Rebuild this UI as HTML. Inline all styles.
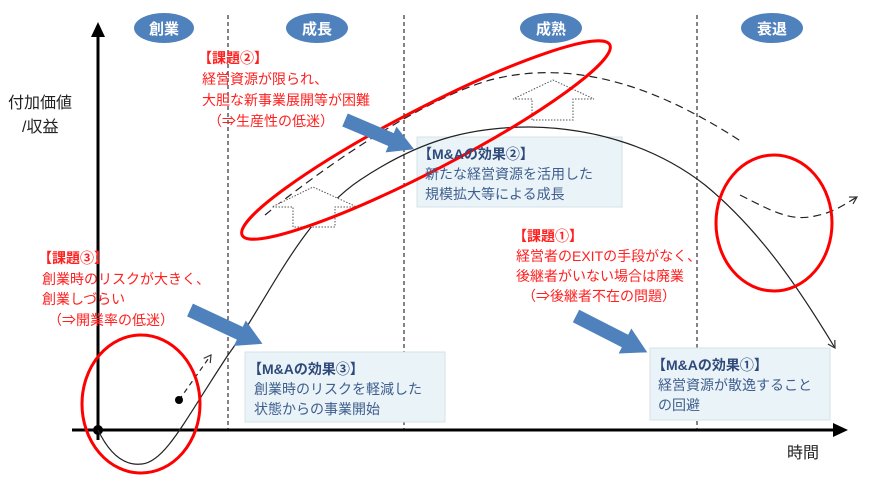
<!DOCTYPE html>
<html><head><meta charset="utf-8"><style>
body{margin:0;background:#fff;}
svg{display:block;font-family:"Liberation Sans","Noto Sans CJK JP",sans-serif;}
.r{fill:#ff2020;font-size:14px;}
.rb{fill:#ff2020;font-size:14px;font-weight:bold;}
.bt{fill:#2e4a7a;font-size:14px;font-weight:bold;}
.bx{fill:#3f5f8f;font-size:14px;}
.ph{fill:#fff;font-size:15px;font-weight:bold;}
</style></head><body>
<svg width="869" height="483" viewBox="0 0 869 483">
<defs>
<marker id="ah" markerWidth="10" markerHeight="10" refX="8" refY="5" orient="auto" markerUnits="userSpaceOnUse"><path d="M1,1 L8,5 L1,9" fill="none" stroke="#333" stroke-width="1.2"/></marker>
</defs>
<g stroke="#333" stroke-width="1.2" stroke-dasharray="4,3">
<line x1="228" y1="15" x2="228" y2="430"/><line x1="404" y1="15" x2="404" y2="430"/><line x1="697" y1="15" x2="697" y2="430"/>
</g>
<rect x="417" y="137" width="205" height="70" fill="#eaf3f7" stroke="#d5e3ea"/>
<rect x="245" y="352" width="200" height="70" fill="#eaf3f7" stroke="#d5e3ea"/>
<rect x="650" y="348" width="180" height="72" fill="#eaf3f7" stroke="#d5e3ea"/>
<line x1="98" y1="440" x2="98" y2="35" stroke="#000" stroke-width="3"/>
<polygon points="91,37 98,22 105,37" fill="#000"/>
<line x1="72" y1="430" x2="835" y2="430" stroke="#000" stroke-width="3"/>
<polygon points="833,423 848,430 833,437" fill="#000"/>
<circle cx="98" cy="430" r="5" fill="#000"/>
<ellipse cx="164" cy="28" rx="30" ry="15" fill="#4f81bd"/><text x="164" y="34" text-anchor="middle" class="ph">創業</text>
<ellipse cx="317" cy="28" rx="31" ry="15" fill="#4f81bd"/><text x="317" y="34" text-anchor="middle" class="ph">成長</text>
<ellipse cx="551" cy="28" rx="31" ry="15" fill="#4f81bd"/><text x="551" y="34" text-anchor="middle" class="ph">成熟</text>
<ellipse cx="772" cy="28" rx="31" ry="15" fill="#4f81bd"/><text x="772" y="34" text-anchor="middle" class="ph">衰退</text>
<text x="8" y="108" font-size="16" fill="#222">付加価値</text>
<text x="22" y="132" font-size="16" fill="#222">/収益</text>
<text x="787" y="458" font-size="16" fill="#222">時間</text>
<path d="M98,430 C110,455 125,466 142,464 C165,462 185,420 228,355 C265,305 300,220 360,180 C420,140 470,127 530,127 C600,128 660,150 705,185 C760,230 800,290 835,348" fill="none" stroke="#222" stroke-width="1.2" marker-end="url(#ah)"/>
<path d="M265,215 C320,170 420,100 490,80 C560,62 640,75 742,142" fill="none" stroke="#222" stroke-width="1.2" stroke-dasharray="8,5"/>
<path d="M740,195 C770,210 790,222 815,216 C835,212 845,204 857,197" fill="none" stroke="#222" stroke-width="1.2" stroke-dasharray="8,5" marker-end="url(#ah)"/>
<line x1="179" y1="400" x2="211" y2="355" stroke="#222" stroke-width="1.2" stroke-dasharray="5,4" marker-end="url(#ah)"/>
<circle cx="179" cy="400" r="4" fill="#000"/>
<path d="M293,227 L293,207 L272,207 L313,187 L357,207 L335,207 L335,227 Z" fill="#fff" stroke="#555" stroke-width="1" stroke-dasharray="1.5,1.5"/>
<path d="M532,120 L532,99 L513,99 L553,80 L594,99 L573,99 L573,120 Z" fill="#fff" stroke="#555" stroke-width="1" stroke-dasharray="1.5,1.5"/>
<ellipse cx="426" cy="140" rx="207" ry="31" transform="rotate(-27.4 426 140)" fill="none" stroke="#ff0000" stroke-width="3"/>
<ellipse cx="774" cy="223" rx="58" ry="68" fill="none" stroke="#ff0000" stroke-width="3"/>
<ellipse cx="141" cy="404" rx="59" ry="69" fill="none" stroke="#ff0000" stroke-width="3"/>
<g fill="#4f81bd">
<path d="M0,-7 L50,-7 L50,-14 L75,0 L50,14 L50,7 L0,7 Z" transform="translate(345,120) rotate(23)"/>
<path d="M0,-7 L55,-7 L55,-14 L80,0 L55,14 L55,7 L0,7 Z" transform="translate(190,310) rotate(25)"/>
<path d="M0,-7 L55,-7 L55,-14 L80,0 L55,14 L55,7 L0,7 Z" transform="translate(576,316) rotate(27)"/>
</g>
<text x="198" y="63" class="rb">【課題②】</text>
<text x="202" y="84" class="r">経営資源が限られ、</text>
<text x="202" y="105" class="r">大胆な新事業展開等が困難</text>
<text x="208" y="126" class="r">（⇒生産性の低迷）</text>
<text x="38" y="263" class="rb">【課題③】</text>
<text x="42" y="284" class="r">創業時のリスクが大きく、</text>
<text x="42" y="304" class="r">創業しづらい</text>
<text x="48" y="325" class="r">（⇒開業率の低迷）</text>
<text x="513" y="241" class="rb">【課題①】</text>
<text x="516" y="261" class="r">経営者のEXITの手段がなく、</text>
<text x="516" y="281" class="r">後継者がいない場合は廃業</text>
<text x="522" y="301" class="r">（⇒後継者不在の問題）</text>
<text x="418" y="159" class="bt">【M&amp;Aの効果②】</text>
<text x="425" y="179" class="bx">新たな経営資源を活用した</text>
<text x="425" y="199" class="bx">規模拡大等による成長</text>
<text x="248" y="374" class="bt">【M&amp;Aの効果③】</text>
<text x="254" y="394" class="bx">創業時のリスクを軽減した</text>
<text x="254" y="414" class="bx">状態からの事業開始</text>
<text x="652" y="370" class="bt">【M&amp;Aの効果①】</text>
<text x="658" y="390" class="bx">経営資源が散逸すること</text>
<text x="658" y="410" class="bx">の回避</text>
</svg>
</body></html>
